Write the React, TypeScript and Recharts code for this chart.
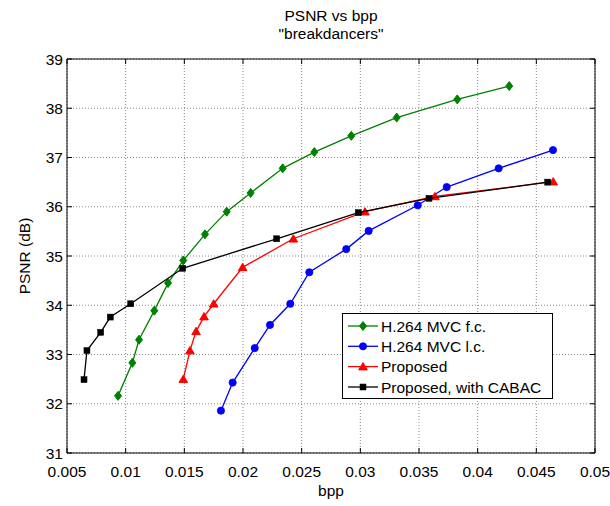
import React from 'react';
import { ScatterChart, Scatter, XAxis, YAxis, CartesianGrid, ReferenceArea, Legend, Label } from 'recharts';

// ---- data ----
const bppFC = [0.00935, 0.01057, 0.01114, 0.01244, 0.01361, 0.01491, 0.01676, 0.01861, 0.02065, 0.02338, 0.02608, 0.02923, 0.0331, 0.03826, 0.04269];
const psnrFC = [32.16, 32.83, 33.30, 33.89, 34.45, 34.91, 35.44, 35.90, 36.28, 36.78, 37.11, 37.44, 37.81, 38.18, 38.45];

const bppLC = [0.01812, 0.01912, 0.0210, 0.0223, 0.02403, 0.02565, 0.0288, 0.03071, 0.03489, 0.03736, 0.04179, 0.04642];
const psnrLC = [31.86, 32.43, 33.13, 33.60, 34.03, 34.67, 35.14, 35.51, 36.03, 36.40, 36.78, 37.15];

const bppProp = [0.01491, 0.01548, 0.0160, 0.01668, 0.0175, 0.01997, 0.02429, 0.0304, 0.03636, 0.04644];
const psnrProp = [32.50, 33.08, 33.47, 33.77, 34.03, 34.77, 35.35, 35.90, 36.21, 36.51];

const bppCabac = [0.00645, 0.0067, 0.00787, 0.00869, 0.01043, 0.01486, 0.02287, 0.02983, 0.03585, 0.04597];
const psnrCabac = [32.49, 33.08, 33.45, 33.76, 34.03, 34.75, 35.35, 35.88, 36.17, 36.50];

const xTicks = [0.005, 0.01, 0.015, 0.02, 0.025, 0.03, 0.035, 0.04, 0.045, 0.05];
const yTicks = [31, 32, 33, 34, 35, 36, 37, 38, 39];

const seriesNames = ['H.264 MVC f.c.', 'H.264 MVC l.c.', 'Proposed', 'Proposed, with CABAC'];
const titleLines = ['PSNR vs bpp', '"breakdancers"'];

const toPoints = (xs: number[], ys: number[]) => xs.map((x, i) => ({ x, y: ys[i] }));

// ---- layout ----
const W = 610;
const H = 506;
const TOP = 59;
const BOTTOM = 453;
const LEFT = 67;
const RIGHT = 595;
const FONT = '"Liberation Sans", Arial, Helvetica, sans-serif';
const FS = 15.5;
const TICK = 5;

const GREEN = '#008000';
const BLUE = '#0000ff';
const RED = '#ff0000';
const BLACK = '#000000';

const Diamond = ({ cx, cy, color }: any) => (
  <polygon points={`${cx},${cy - 4.5} ${cx + 3.5},${cy} ${cx},${cy + 4.5} ${cx - 3.5},${cy}`} fill={color} stroke={color} strokeWidth={1} />
);
const Circle = ({ cx, cy, color }: any) => <circle cx={cx} cy={cy} r={3.6} fill={color} stroke={color} strokeWidth={0.8} />;
const Triangle = ({ cx, cy, color }: any) => (
  <polygon points={`${cx},${cy - 4} ${cx + 4.3},${cy + 3.3} ${cx - 4.3},${cy + 3.3}`} fill={color} stroke={color} strokeWidth={1} />
);
const Square = ({ cx, cy, color }: any) => <rect x={cx - 3} y={cy - 3} width={6} height={6} fill={color} stroke={color} strokeWidth={0.5} />;

const markers = [Diamond, Circle, Triangle, Square];
const colors = [GREEN, BLUE, RED, BLACK];

const XTick = ({ x, y, payload }: any) => (
  <g>
    <line x1={x} y1={BOTTOM} x2={x} y2={BOTTOM - TICK} stroke="#000" strokeWidth={1} />
    <line x1={x} y1={TOP} x2={x} y2={TOP + TICK} stroke="#000" strokeWidth={1} />
    <text x={x} y={y + 24} textAnchor="middle" fontFamily={FONT} fontSize={FS} fill="#000">
      {String(payload.value)}
    </text>
  </g>
);

const YTick = ({ x, y, payload }: any) => (
  <g>
    <line x1={LEFT} y1={y} x2={LEFT + TICK} y2={y} stroke="#000" strokeWidth={1} />
    <line x1={RIGHT} y1={y} x2={RIGHT - TICK} y2={y} stroke="#000" strokeWidth={1} />
    <text x={x - 4} y={y + 5.5} textAnchor="end" fontFamily={FONT} fontSize={FS} fill="#000">
      {String(payload.value)}
    </text>
  </g>
);

const LegendBox = () => {
  const rowY = [13, 33.3, 53.6, 74];
  return (
    <svg width={211} height={86} style={{ display: 'block' }}>
      <rect x={0.5} y={0.5} width={210} height={85} fill="#fff" stroke="#000" strokeWidth={1} />
      {seriesNames.map((name, i) => {
        const M = markers[i];
        return (
          <g key={name}>
            <line x1={6} y1={rowY[i]} x2={36} y2={rowY[i]} stroke={colors[i]} strokeWidth={1.3} />
            <M cx={21} cy={rowY[i]} color={colors[i]} />
            <text x={39} y={rowY[i] + 5.5} fontFamily={FONT} fontSize={FS} fill="#000">{name}</text>
          </g>
        );
      })}
    </svg>
  );
};

const series = [
  toPoints(bppFC, psnrFC),
  toPoints(bppLC, psnrLC),
  toPoints(bppProp, psnrProp),
  toPoints(bppCabac, psnrCabac),
];

export default function App() {
  return (
    <div style={{ position: 'absolute', left: 0, top: 0, width: W, height: H, background: '#fff' }}>
      <svg width={W} height={60} style={{ position: 'absolute', left: 0, top: 0 }}>
        <text x={(LEFT + RIGHT) / 2} y={21} textAnchor="middle" fontFamily={FONT} fontSize={FS} fill="#000">{titleLines[0]}</text>
        <text x={(LEFT + RIGHT) / 2} y={39} textAnchor="middle" fontFamily={FONT} fontSize={FS} fill="#000">{titleLines[1]}</text>
      </svg>
      <ScatterChart width={W} height={H} margin={{ top: TOP, right: W - RIGHT, bottom: 0, left: 0 }}>
        <CartesianGrid stroke="#888" strokeDasharray="1 2" strokeWidth={1} horizontalValues={yTicks} verticalValues={xTicks} />
        <XAxis
          type="number"
          dataKey="x"
          domain={[0.005, 0.05]}
          ticks={xTicks}
          allowDataOverflow
          height={H - BOTTOM}
          axisLine={false}
          tickLine={false}
          tickSize={0}
          tickMargin={0}
          tick={<XTick />}
          interval={0}
        >
          <Label
            content={({ viewBox }: any) => (
              <text x={viewBox.x + viewBox.width / 2} y={viewBox.y + 43} textAnchor="middle" fontFamily={FONT} fontSize={FS} fill="#000">bpp</text>
            )}
          />
        </XAxis>
        <YAxis
          type="number"
          dataKey="y"
          domain={[31, 39]}
          ticks={yTicks}
          allowDataOverflow
          width={LEFT}
          axisLine={false}
          tickLine={false}
          tickSize={0}
          tickMargin={0}
          tick={<YTick />}
          interval={0}
        >
          <Label
            content={({ viewBox }: any) => {
              const cy = viewBox.y + viewBox.height / 2;
              return (
                <text x={30} y={cy} transform={`rotate(-90, 30, ${cy})`} textAnchor="middle" fontFamily={FONT} fontSize={FS} fill="#000">PSNR (dB)</text>
              );
            }}
          />
        </YAxis>
        <ReferenceArea x1={0.005} x2={0.05} y1={31} y2={39} fill="none" fillOpacity={0} stroke="#000" strokeWidth={1} strokeOpacity={1} ifOverflow="visible" />
        {series.map((data, i) => {
          const M = markers[i];
          return (
            <Scatter
              key={seriesNames[i]}
              name={seriesNames[i]}
              data={data}
              fill={colors[i]}
              line={{ stroke: colors[i], strokeWidth: 1.3 }}
              lineType="joint"
              isAnimationActive={false}
              shape={(p: any) => <M cx={p.cx} cy={p.cy} color={colors[i]} />}
            />
          );
        })}
        <Legend
          layout="horizontal"
          verticalAlign="middle"
          align="center"
          wrapperStyle={{ position: 'absolute', left: 342, top: 313, width: 211, height: 86 }}
          content={() => <LegendBox />}
        />
      </ScatterChart>
    </div>
  );
}
